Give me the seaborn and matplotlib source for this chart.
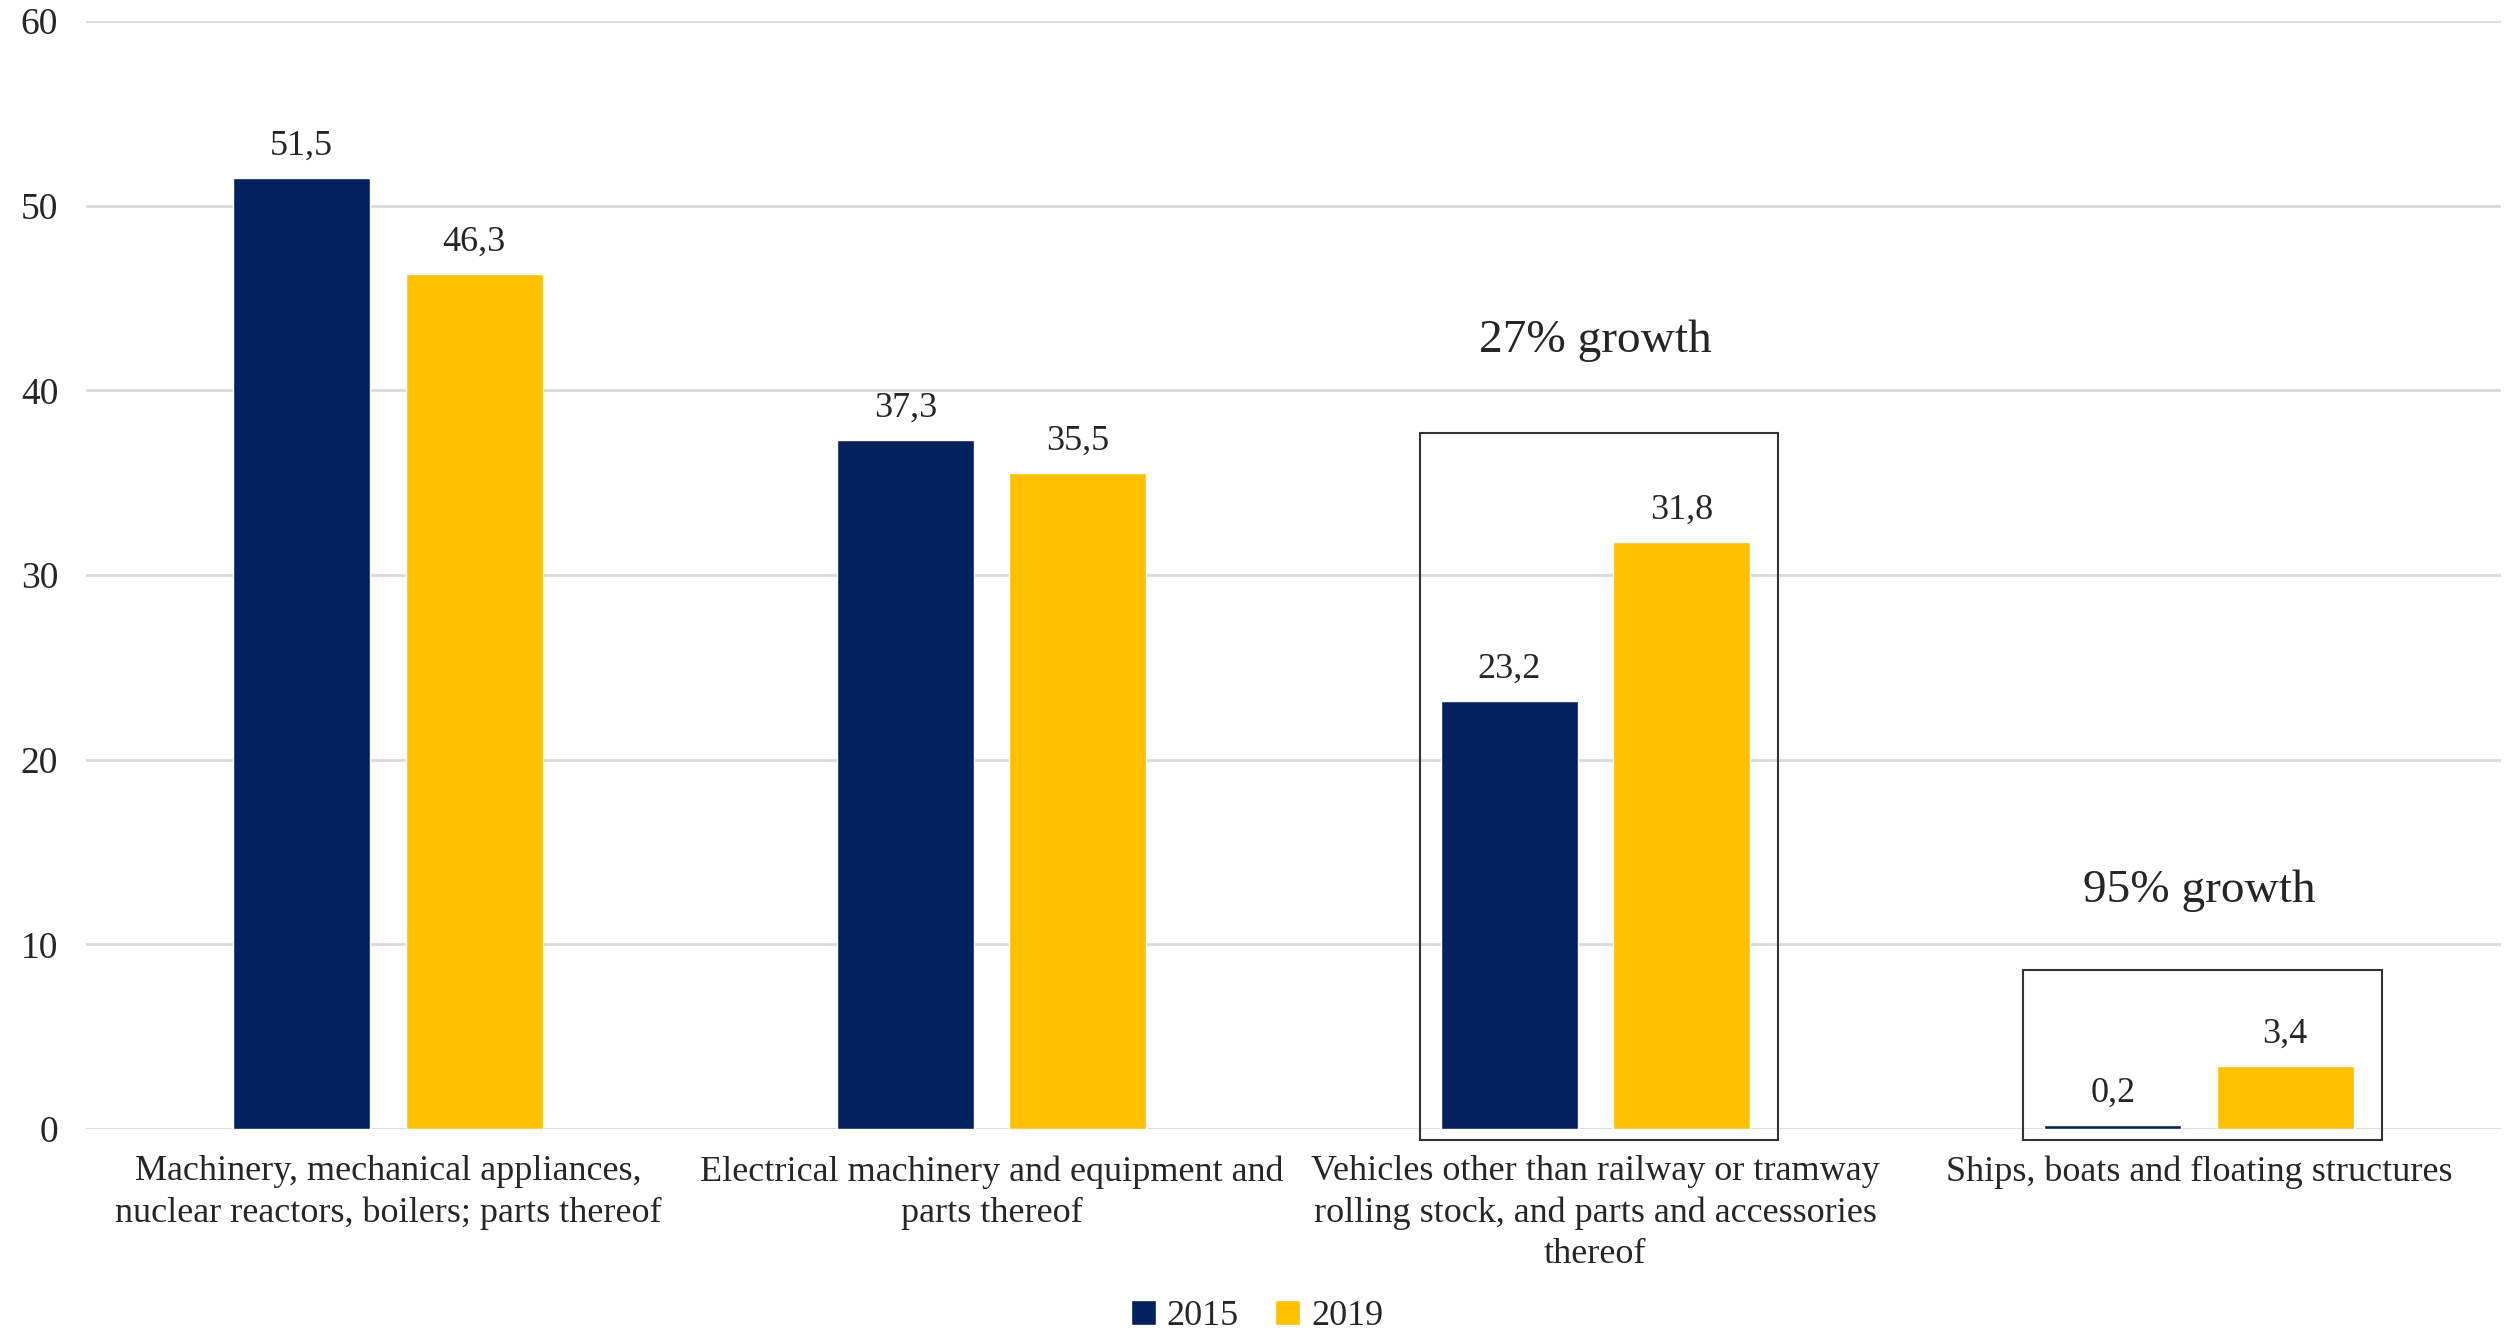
import pandas as pd
import matplotlib.pyplot as plt
import seaborn as sns
from matplotlib.patches import Rectangle

# -------------------------------
# DATA
# -------------------------------
categories = [
    "Machinery, mechanical appliances,\nnuclear reactors, boilers; parts thereof",
    "Electrical machinery and equipment and\nparts thereof",
    "Vehicles other than railway or tramway\nrolling stock, and parts and accessories\nthereof",
    "Ships, boats and floating structures",
]
years = ["2015", "2019"]
values_2015 = [51.5, 37.3, 23.2, 0.2]
values_2019 = [46.3, 35.5, 31.8, 3.4]
colors = ["#02215E", "#FFC000"]

# highlighted groups: category index, label, box top, label height
highlight_idx = [2, 3]
highlight_text = ["27% growth", "95% growth"]
highlight_top = [37.7, 8.6]
highlight_text_y = [42.7, 12.9]

df = pd.DataFrame({
    "category": categories * 2,
    "year": [years[0]] * 4 + [years[1]] * 4,
    "value": values_2015 + values_2019,
})

# -------------------------------
# PLOT
# -------------------------------
sns.set_style("white")
plt.rcParams["font.family"] = ["Liberation Serif", "DejaVu Serif"]

fig, ax = plt.subplots(figsize=(25.14, 13.38), dpi=100)
fig.subplots_adjust(left=0.0342, right=0.9948, top=0.9843, bottom=0.1562)

width = 0.571
sns.barplot(data=df, x="category", y="value", hue="year", palette=colors,
            width=width, gap=0.205, saturation=1, ax=ax, legend=True)

# value labels with decimal comma
for cont in ax.containers:
    ax.bar_label(cont, labels=[f"{v:.1f}".replace(".", ",") for v in cont.datavalues],
                 padding=11, fontsize=26)

ax.set_ylim(0, 60)
ax.set_xlim(-0.5, 3.5)
ax.set_yticks(range(0, 61, 10))
ax.yaxis.grid(True, color="#d9d9d9", linewidth=2)
ax.set_axisbelow(True)
sns.despine(ax=ax, left=True, bottom=True)
ax.tick_params(axis="y", length=0, pad=20, labelsize=27)
ax.tick_params(axis="x", length=0, pad=19, labelsize=26)
for lbl in ax.get_xticklabels():
    lbl.set_linespacing(1.32)
ax.set_xlabel("")
ax.set_ylabel("")

# growth boxes
half = 0.297
for i, txt, top, ty in zip(highlight_idx, highlight_text, highlight_top, highlight_text_y):
    rect = Rectangle((i + 0.006 - half, -0.6), 2 * half, top + 0.6, fill=False,
                     edgecolor="#333333", linewidth=1.5, clip_on=False, zorder=5)
    ax.add_patch(rect)
    ax.text(i, ty, txt, ha="center", va="center", fontsize=34)

ax.legend(loc="center", bbox_to_anchor=(0.5, 0.016), bbox_transform=fig.transFigure,
          ncol=2, frameon=False, fontsize=26, handlelength=0.7, handleheight=0.7,
          handletextpad=0.3, columnspacing=1.0, borderpad=0.1)

fig.savefig("out.png", dpi=100)
